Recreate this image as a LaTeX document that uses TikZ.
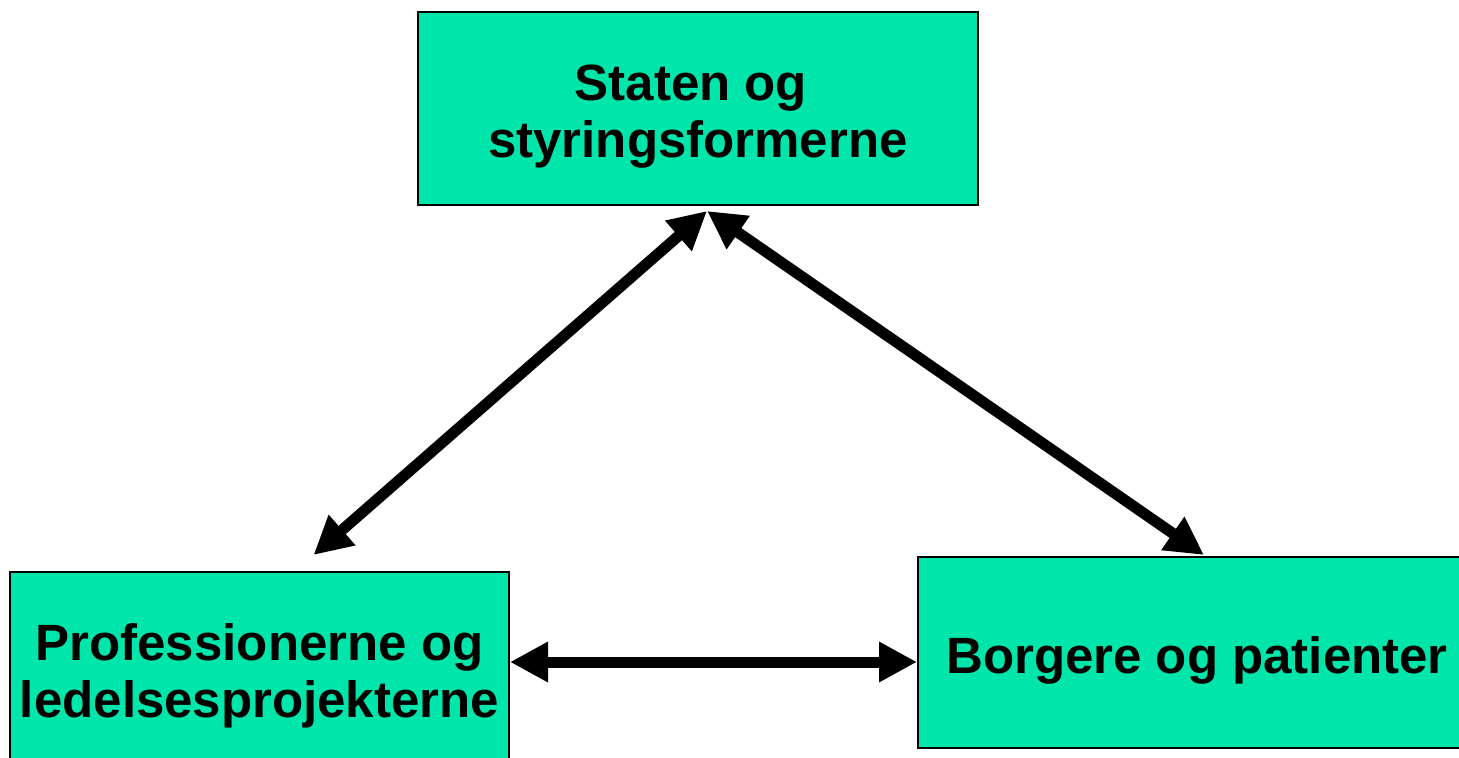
\documentclass[tikz,border=0pt]{standalone}
\usepackage{fontspec}
\setmainfont{Liberation Sans}
\definecolor{BoxColor}{RGB}{0,229,170}
\usetikzlibrary{positioning, arrows.meta}
\newcommand{\toppad}{\rule{0pt}{26pt}}

\begin{document}
\begin{tikzpicture}[x=0.5pt, y=-0.5pt,
    actor/.style={draw=black, line width=1pt, fill=BoxColor, align=center, inner sep=0pt,
      font=\fontsize{25.5}{28.5}\selectfont\bfseries},
    relation/.style={{Triangle[length=19pt,width=19pt]}-{Triangle[length=19pt,width=19pt]}, line width=5.5pt}]
          \useasboundingbox (0,0) rectangle (1459,758);
          \clip (0,0) rectangle (1459,758);
          % the three parties
          \node[actor, minimum width=280pt, minimum height=96.5pt] (staten) at (698,108.5) {\toppad Staten og\hspace*{0.28em}\\styringsformerne};
          \node[actor, minimum width=249.5pt, minimum height=96pt] (prof) at (259.5,668) {\toppad Professionerne og\\ledelsesprojekterne};
          \node[actor, minimum width=279pt, minimum height=95.5pt] (borgere) at (1197,652.5) {\toppad Borgere og patienter};
          % arrow ends
          \coordinate (apex) at ([xshift=4.5pt, yshift=-2.5pt]staten.south);
          \draw[relation] (apex) -- ([xshift=27pt, yshift=8pt]prof.north);
          \draw[relation] (apex) -- ([xshift=3.5pt, yshift=0.5pt]borgere.north);
          \draw[relation] ([yshift=3pt]prof.east) -- ([yshift=-4.75pt]borgere.west);
        \end{tikzpicture}
\end{document}
